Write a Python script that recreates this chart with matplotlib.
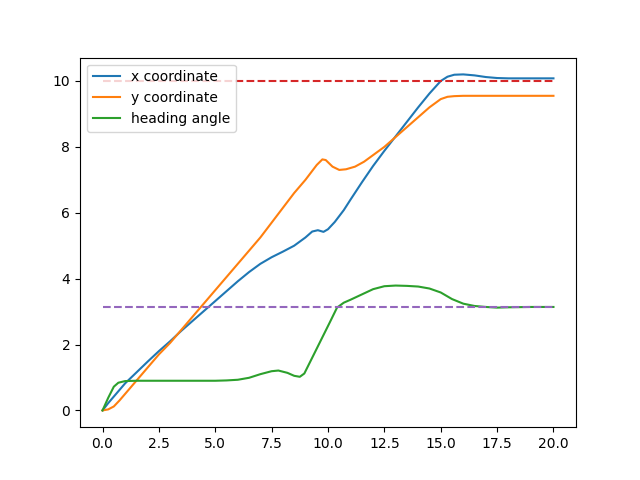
import numpy as np
import matplotlib
matplotlib.use("Agg")
import matplotlib.pyplot as plt

# x coordinate
t_x = [0, 0.25, 0.5, 0.75, 1.0, 1.5, 2, 2.5, 3, 3.5, 4, 4.5, 5, 5.5, 6, 6.5, 7, 7.5,
       8, 8.5, 9, 9.3, 9.55, 9.8, 10.0, 10.3, 10.7, 11, 11.5, 12, 12.5, 13, 13.5,
       14, 14.5, 15, 15.3, 15.6, 16, 16.5, 17, 17.5, 18, 19, 20]
x_coord = [0, 0.22, 0.42, 0.62, 0.82, 1.15, 1.48, 1.8, 2.1, 2.42, 2.72, 3.02, 3.32,
           3.62, 3.92, 4.2, 4.45, 4.65, 4.82, 5.0, 5.25, 5.43, 5.47, 5.42, 5.5, 5.72,
           6.08, 6.4, 6.92, 7.42, 7.88, 8.32, 8.76, 9.2, 9.62, 10.0, 10.13, 10.19, 10.2,
           10.17, 10.12, 10.09, 10.08, 10.08, 10.08]

# y coordinate
t_y = [0, 0.25, 0.5, 0.75, 1, 1.5, 2, 2.5, 3, 3.5, 4, 4.5, 5, 5.5, 6, 6.5, 7, 7.5,
       8, 8.5, 9, 9.5, 9.75, 9.9, 10.2, 10.5, 10.8, 11.2, 11.6, 12, 12.5, 13, 13.5,
       14, 14.5, 15, 15.3, 15.6, 16, 17, 18, 19, 20]
y_coord = [0, 0.03, 0.12, 0.3, 0.5, 0.9, 1.3, 1.7, 2.05, 2.45, 2.85, 3.25, 3.65,
           4.05, 4.45, 4.85, 5.25, 5.7, 6.15, 6.6, 7.0, 7.45, 7.62, 7.6, 7.4, 7.3,
           7.32, 7.4, 7.55, 7.75, 8.0, 8.3, 8.6, 8.9, 9.2, 9.45, 9.52, 9.54, 9.55,
           9.55, 9.55, 9.55, 9.55]

# heading angle
t_h = [0, 0.25, 0.5, 0.7, 1.0, 1.5, 2, 3, 4, 5, 5.5, 6, 6.5, 7, 7.5, 7.8, 8.2, 8.5,
       8.75, 8.95, 9.3, 9.7, 10.1, 10.4, 10.7, 11, 11.5, 12, 12.5, 13, 13.5, 14,
       14.5, 15, 15.5, 16, 16.5, 17, 17.5, 18, 19, 20]
heading = [0, 0.38, 0.72, 0.84, 0.89, 0.9, 0.9, 0.9, 0.9, 0.9, 0.91, 0.93, 0.99,
           1.1, 1.19, 1.21, 1.14, 1.05, 1.02, 1.12, 1.6, 2.15, 2.7, 3.12, 3.27, 3.36,
           3.52, 3.68, 3.77, 3.79, 3.78, 3.76, 3.7, 3.58, 3.38, 3.24, 3.17, 3.14,
           3.12, 3.13, 3.14, 3.14]

# targets
t_ref = [0, 20]
x_target = [10, 10]
h_target = [np.pi, np.pi]

fig = plt.figure(figsize=(6.4, 4.8), dpi=100)
plt.plot(t_x, x_coord)
plt.plot(t_y, y_coord)
plt.plot(t_h, heading)
plt.plot(t_ref, x_target, '--')
plt.plot(t_ref, h_target, '--')
plt.legend(['x coordinate', 'y coordinate', 'heading angle'], loc='upper left')
fig.savefig("out.png")
